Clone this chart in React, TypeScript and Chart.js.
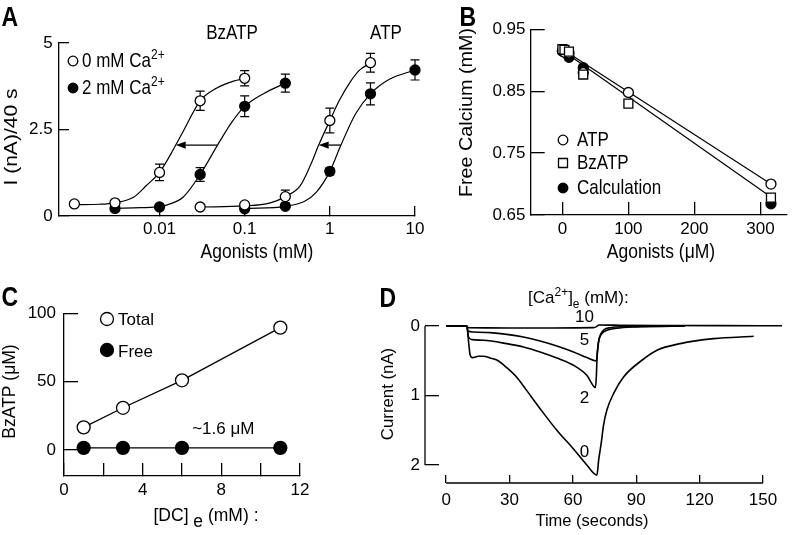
import React, { useEffect, useRef } from "react";
import { Chart, registerables } from "chart.js";

Chart.register(...registerables);

const FONT = '"Liberation Sans", Arial, Helvetica, sans-serif';
const W = 796;
const H = 535;
const TICK_SIZE = 17;
const TEXT_SIZE = 17;
const TITLE_SIZE = 17.5;
const LETTER_SIZE = 23;
const LETTER_SY = 1.2;
const TOP_SY = 1.15;

// ================= Panel A =================
const aXTicks = [0.01, 0.1, 1, 10];
const aXTickLabels = ["0.01", "0.1", "1", "10"];
const aYTicks = [0, 2.5, 5];
const aYTickLabels = ["0", "2.5", "5"];

const aBzX0 = [0.001, 0.003, 0.01, 0.03, 0.1];
const aBzY0 = [0.35, 0.38, 1.26, 3.33, 3.98];
const aBzE0 = [0, 0, 0.24, 0.28, 0.22];
const aBzX2 = [0.003, 0.01, 0.03, 0.1, 0.3];
const aBzY2 = [0.22, 0.26, 1.2, 3.17, 3.84];
const aBzE2 = [0, 0, 0.2, 0.3, 0.26];
const aAtpX0 = [0.03, 0.1, 0.3, 1, 3];
const aAtpY0 = [0.26, 0.32, 0.56, 2.76, 4.43];
const aAtpE0 = [0, 0, 0.19, 0.36, 0.27];
const aAtpX2 = [0.1, 0.3, 1, 3, 10];
const aAtpY2 = [0.21, 0.28, 1.29, 3.53, 4.22];
const aAtpE2 = [0, 0, 0.1, 0.32, 0.29];

const aFitBzX0 = [0.001, 0.002, 0.003, 0.005, 0.007, 0.01, 0.0135, 0.0155, 0.019, 0.03, 0.047, 0.074, 0.1];
const aFitBzY0 = [0.33, 0.34, 0.38, 0.55, 0.88, 1.26, 1.78, 2.05, 2.45, 3.33, 3.7, 3.9, 3.97];
const aFitBzX2 = [0.003, 0.006, 0.01, 0.0126, 0.019, 0.03, 0.048, 0.07, 0.1, 0.17, 0.3];
const aFitBzY2 = [0.22, 0.24, 0.27, 0.33, 0.55, 1.2, 2.05, 2.7, 3.17, 3.55, 3.84];
const aFitAtpX0 = [0.03, 0.1, 0.2, 0.3, 0.45, 0.6, 0.74, 1, 1.3, 1.7, 2.2, 3];
const aFitAtpY0 = [0.26, 0.29, 0.38, 0.56, 0.88, 1.5, 2.05, 2.76, 3.35, 3.84, 4.2, 4.43];
const aFitAtpX2 = [0.1, 0.3, 0.5, 0.7, 1, 1.35, 2, 3, 5, 10];
const aFitAtpY2 = [0.21, 0.28, 0.42, 0.7, 1.29, 2.05, 2.95, 3.53, 3.95, 4.22];

const aArrowFrom = [0.048, 1.35];
const aArrowTo = [0.0155, 0.74];
const aArrowY = [2.05, 2.05];

// ================= Panel B =================
const bXTicks = [0, 100, 200, 300];
const bXTickLabels = ["0", "100", "200", "300"];
const bYTicks = [0.65, 0.75, 0.85, 0.95];
const bYTickLabels = ["0.65", "0.75", "0.85", "0.95"];
const bX = [0, 3.16, 10, 31.6, 100, 316];
const bAtp = [0.915, 0.913, 0.912, 0.88, 0.848, 0.7];
const bBz = [0.918, 0.917, 0.914, 0.877, 0.83, 0.678];
const bCalcX = [0, 10, 31.6, 316];
const bCalc = [0.915, 0.905, 0.888, 0.668];
const bFitX = [0, 316];
const bFitAtp = [0.918, 0.7];
const bFitBz = [0.916, 0.679];

// ================= Panel C =================
const cXTicks = [0, 2, 4, 6, 8, 10, 12];
const cXTickLabels = ["0", "", "4", "", "8", "", "12"];
const cYTicks = [0, 50, 100];
const cYTickLabels = ["0", "50", "100"];
const cX = [1, 3, 6, 11];
const cTotal = [16.6, 30.9, 51, 89.5];
const cFree = [1.6, 1.6, 1.6, 1.6];
const cNote = "~1.6 \u03bcM";
const cNoteX = 8.1;
const cNoteY = 11.7;

// ================= Panel D =================
const dXTicks = [0, 30, 60, 90, 120, 150];
const dXTickLabels = ["0", "30", "60", "90", "120", "150"];
const dYTicks = [0, 1, 2];
const dYTickLabels = ["0", "1", "2"];
const d0T = [0, 9.8, 10.7, 11.4, 12.5, 15.3, 17.7, 20.8, 24, 28.7, 33.5, 38.2, 44.5, 52.4, 60.3, 66.6, 71.4, 72.2, 73.4, 74.5, 76.1, 79.3, 84, 92.7, 99.8, 110.8, 126.6, 145.6];
const d0I = [0, 0, 0.25, 0.42, 0.455, 0.436, 0.436, 0.46, 0.49, 0.6, 0.74, 0.93, 1.19, 1.5, 1.77, 2.0, 2.145, 1.93, 1.69, 1.43, 1.21, 0.97, 0.733, 0.493, 0.349, 0.254, 0.182, 0.148];
const d2T = [0, 9.8, 10.6, 12.2, 17.7, 28.7, 36.6, 44.5, 52.4, 60.3, 66.6, 70.7, 71.1, 71.4, 71.8, 72.5, 73.7, 76.1, 80.8, 88.7, 99.8, 113];
const d2I = [0, 0, 0.158, 0.196, 0.205, 0.254, 0.302, 0.373, 0.46, 0.565, 0.708, 0.885, 0.73, 0.49, 0.3, 0.18, 0.11, 0.062, 0.033, 0.014, 0.005, 0];
const d5T = [0, 9.8, 10.3, 12.9, 20.8, 28.7, 36.6, 44.5, 52.4, 60.3, 66.6, 71.1, 71.7, 72.3, 73.3, 74.8, 77.7, 84, 95, 113];
const d5I = [0, 0, 0.072, 0.086, 0.096, 0.12, 0.158, 0.215, 0.287, 0.373, 0.455, 0.503, 0.35, 0.205, 0.11, 0.052, 0.024, 0.01, 0.005, 0];
const d10T = [0, 9.8, 10.5, 30, 50, 69.8, 71.4, 72.2, 80, 100, 130, 159];
const d10I = [0, 0, 0.024, 0.028, 0.028, 0.024, 0.005, -0.014, -0.012, -0.008, -0.005, -0.004];
const dLabelText = ["10", "5", "2", "0"];
const dLabelT = [65.5, 65.5, 65.5, 65.5];
const dLabelI = [-0.06, 0.27, 1.11, 1.88];

// ================= helpers =================
type Part = [string, string?];
type TextOpts = { align?: string; rot?: number; bold?: boolean; baseline?: string; sy?: number };

function rich(ctx: any, x: number, y: number, parts: Part[], size: number, o: TextOpts = {}) {
  const align = o.align ?? "left";
  const bold = !!o.bold;
  ctx.save();
  ctx.translate(x, y);
  if (o.sy && o.sy !== 1) ctx.scale(1, o.sy);
  if (o.rot) ctx.rotate(o.rot);
  ctx.fillStyle = "#000";
  ctx.textBaseline = o.baseline ?? "alphabetic";
  ctx.textAlign = "left";
  const fontFor = (p: Part) =>
    `${bold ? "bold " : ""}${p[1] === "sup" || p[1] === "sub" ? Math.round(size * 0.7) : size}px ${FONT}`;
  const widths = parts.map((p) => {
    ctx.font = fontFor(p);
    return ctx.measureText(p[0]).width;
  });
  const total = widths.reduce((a, b) => a + b, 0);
  let cx = align === "left" ? 0 : align === "center" ? -total / 2 : -total;
  parts.forEach((p, i) => {
    ctx.font = fontFor(p);
    const dy = p[1] === "sup" ? -size * 0.42 : p[1] === "sub" ? size * 0.3 : p[1] === "low" ? size * 0.35 : 0;
    ctx.fillText(p[0], cx, dy);
    cx += widths[i];
  });
  ctx.restore();
}

function marker(ctx: any, x: number, y: number, r: number, shape: string, filled: boolean) {
  ctx.save();
  ctx.lineWidth = 1.3;
  ctx.strokeStyle = "#000";
  ctx.fillStyle = filled ? "#000" : "#fff";
  ctx.beginPath();
  if (shape === "rect") ctx.rect(x - r, y - r, 2 * r, 2 * r);
  else ctx.arc(x, y, r, 0, Math.PI * 2);
  ctx.fill();
  ctx.stroke();
  ctx.restore();
}

function arrow(ctx: any, x1: number, x2: number, y: number) {
  const hl = 10;
  const hw = 3.6;
  const dir = Math.sign(x2 - x1);
  ctx.save();
  ctx.strokeStyle = "#000";
  ctx.fillStyle = "#000";
  ctx.lineWidth = 1.3;
  ctx.beginPath();
  ctx.moveTo(x1, y);
  ctx.lineTo(x2 - dir * hl, y);
  ctx.stroke();
  ctx.beginPath();
  ctx.moveTo(x2, y);
  ctx.lineTo(x2 - dir * hl, y - hw);
  ctx.lineTo(x2 - dir * hl, y + hw);
  ctx.closePath();
  ctx.fill();
  ctx.restore();
}

function errBars(ctx: any, xs: any, ys: any, X: number[], Y: number[], E: number[], cap = 4.5) {
  ctx.save();
  ctx.strokeStyle = "#000";
  ctx.lineWidth = 1.2;
  X.forEach((xv, i) => {
    if (!E[i]) return;
    const px = xs.getPixelForValue(xv);
    const top = ys.getPixelForValue(Y[i] + E[i]);
    const bot = ys.getPixelForValue(Y[i] - E[i]);
    ctx.beginPath();
    ctx.moveTo(px, top);
    ctx.lineTo(px, bot);
    ctx.moveTo(px - cap, top);
    ctx.lineTo(px + cap, top);
    ctx.moveTo(px - cap, bot);
    ctx.lineTo(px + cap, bot);
    ctx.stroke();
  });
  ctx.restore();
}

const pts = (xs: number[], ys: number[]) => xs.map((x, i) => ({ x, y: ys[i] }));

function pointSet(xs: number[], ys: number[], filled: boolean, r = 5, style = "circle", order = 0) {
  return {
    data: pts(xs, ys),
    showLine: false,
    pointRadius: r,
    pointStyle: style,
    pointBorderWidth: 1.3,
    pointBorderColor: "#000",
    pointBackgroundColor: filled ? "#000" : "#fff",
    borderColor: "#000",
    backgroundColor: filled ? "#000" : "#fff",
    order,
    clip: false,
  };
}

function lineSet(xs: number[], ys: number[], width = 1.2, order = 2, smooth = true) {
  return {
    data: pts(xs, ys),
    showLine: true,
    pointRadius: 0,
    borderColor: "#000",
    borderWidth: width,
    fill: false,
    cubicInterpolationMode: smooth ? "monotone" : "default",
    tension: 0,
    order,
    clip: false,
  };
}

function axisCommon(ticks: number[], labels: string[], tl: number, pad: number, border = true) {
  return {
    afterBuildTicks: (s: any) => {
      s.ticks = ticks.map((v) => ({ value: v }));
    },
    ticks: {
      callback: (_v: any, i: number) => labels[i],
      font: { family: FONT, size: TICK_SIZE },
      color: "#000",
      padding: pad,
      autoSkip: false,
      maxRotation: 0,
      minRotation: 0,
    },
    grid: { display: true, drawOnChartArea: false, drawTicks: true, tickLength: -tl, color: "#000", lineWidth: 1.3 },
    border: { display: border, color: "#000", width: 1.3 },
    title: { display: false },
  };
}

type Area = { l: number; t: number; r: number; b: number };

function baseOptions(area: Area, x: any, y: any) {
  return {
    responsive: false,
    maintainAspectRatio: false,
    animation: false,
    devicePixelRatio: 1,
    events: [],
    layout: { padding: { left: 0, top: area.t, right: W - area.r, bottom: 0 } },
    plugins: { legend: { display: false }, tooltip: { enabled: false } },
    scales: {
      x: { ...x, position: "bottom", afterFit: (s: any) => { s.height = H - area.b; } },
      y: { ...y, position: "left", afterFit: (s: any) => { s.width = area.l; } },
    },
  };
}

const ROT = -Math.PI / 2;

// ================= configs =================
const AREA_A: Area = { l: 59, t: 43, r: 415, b: 216 };
const AREA_B: Area = { l: 530.7, t: 24, r: 786.8, b: 215 };
const AREA_C: Area = { l: 64, t: 313.3, r: 300, b: 476 };
const AREA_D: Area = { l: 425, t: 326, r: 763, b: 483 };

const configA = () => ({
  type: "line",
  data: {
    datasets: [
      pointSet(aBzX0, aBzY0, false),
      pointSet(aBzX2, aBzY2, true),
      pointSet(aAtpX0, aAtpY0, false),
      pointSet(aAtpX2, aAtpY2, true),
      lineSet(aFitBzX0, aFitBzY0),
      lineSet(aFitBzX2, aFitBzY2),
      lineSet(aFitAtpX0, aFitAtpY0),
      lineSet(aFitAtpX2, aFitAtpY2),
    ],
  },
  options: baseOptions(
    AREA_A,
    { type: "logarithmic", min: 0.00066, max: 10, ...axisCommon(aXTicks, aXTickLabels, 10, 13.4) },
    { type: "linear", min: 0, max: 5, ...axisCommon(aYTicks, aYTickLabels, 10, 16.3) }
  ),
  plugins: [
    {
      id: "panelA",
      beforeDatasetsDraw(chart: any) {
        const { ctx, scales } = chart;
        errBars(ctx, scales.x, scales.y, aBzX0, aBzY0, aBzE0);
        errBars(ctx, scales.x, scales.y, aBzX2, aBzY2, aBzE2);
        errBars(ctx, scales.x, scales.y, aAtpX0, aAtpY0, aAtpE0);
        errBars(ctx, scales.x, scales.y, aAtpX2, aAtpY2, aAtpE2);
      },
      afterDraw(chart: any) {
        const { ctx, scales } = chart;
        aArrowFrom.forEach((f, i) => {
          arrow(ctx, scales.x.getPixelForValue(f), scales.x.getPixelForValue(aArrowTo[i]), scales.y.getPixelForValue(aArrowY[i]));
        });
        rich(ctx, 1.5, 25.5, [["A"]], LETTER_SIZE, { bold: true, sy: LETTER_SY });
        rich(ctx, 12.5, 137, [["I (nA)/40 s"]], 18, { align: "center", rot: ROT, baseline: "middle", sy: 1.17 });
        rich(ctx, 257, 257.5, [["Agonists (mM)"]], TITLE_SIZE, { align: "center", sy: TOP_SY });
        rich(ctx, 232, 38.5, [["BzATP"]], TEXT_SIZE, { align: "center", sy: TOP_SY });
        rich(ctx, 386, 38.5, [["ATP"]], TEXT_SIZE, { align: "center", sy: TOP_SY });
        marker(ctx, 73, 61, 4.8, "circle", false);
        rich(ctx, 82, 67, [["0 mM Ca"], ["2+", "sup"]], TEXT_SIZE, { sy: TOP_SY });
        marker(ctx, 73, 88, 4.8, "circle", true);
        rich(ctx, 82, 94, [["2 mM Ca"], ["2+", "sup"]], TEXT_SIZE, { sy: TOP_SY });
      },
    },
  ],
});

const configB = () => ({
  type: "line",
  data: {
    datasets: [
      pointSet(bX, bBz, false, 6.3, "rect", 0),
      pointSet(bX, bAtp, false, 5, "circle", 0),
      pointSet(bCalcX, bCalc, true, 5, "circle", 1),
      lineSet(bFitX, bFitAtp, 1.2, 2, false),
      lineSet(bFitX, bFitBz, 1.2, 2, false),
    ],
  },
  options: baseOptions(
    AREA_B,
    { type: "linear", min: -48, max: 340, ...axisCommon(bXTicks, bXTickLabels, 13, 16.9) },
    { type: "linear", min: 0.65, max: 0.95, ...axisCommon(bYTicks, bYTickLabels, 14, 19.2) }
  ),
  plugins: [
    {
      id: "panelB",
      afterDraw(chart: any) {
        const { ctx } = chart;
        rich(ctx, 459.5, 25.5, [["B"]], LETTER_SIZE, { bold: true, sy: LETTER_SY });
        rich(ctx, 467.5, 112.5, [["Free Calcium (mM)"]], TITLE_SIZE, { align: "center", rot: ROT, baseline: "middle", sy: 1.13 });
        rich(ctx, 661, 257.5, [["Agonists (\u03bcM)"]], TITLE_SIZE, { align: "center", sy: TOP_SY });
        marker(ctx, 563, 140, 4.8, "circle", false);
        rich(ctx, 577, 146, [["ATP"]], TEXT_SIZE, { sy: TOP_SY });
        marker(ctx, 563, 163, 4.5, "rect", false);
        rich(ctx, 577, 169, [["BzATP"]], TEXT_SIZE, { sy: TOP_SY });
        marker(ctx, 563, 188, 4.8, "circle", true);
        rich(ctx, 577, 194, [["Calculation"]], TEXT_SIZE, { sy: TOP_SY });
      },
    },
  ],
});

const configC = () => ({
  type: "line",
  data: {
    datasets: [
      { ...pointSet(cX, cTotal, false, 6.5), showLine: true, borderWidth: 1.3, tension: 0 },
      { ...pointSet(cX, cFree, true, 6.5), showLine: true, borderWidth: 1.3, tension: 0 },
    ],
  },
  options: baseOptions(
    AREA_C,
    { type: "linear", min: 0, max: 12, ...axisCommon(cXTicks, cXTickLabels, 13, 17.4) },
    { type: "linear", min: -19, max: 100, ...axisCommon(cYTicks, cYTickLabels, 14, 22) }
  ),
  plugins: [
    {
      id: "panelC",
      afterDraw(chart: any) {
        const { ctx, scales } = chart;
        rich(ctx, 1.5, 305.5, [["C"]], LETTER_SIZE, { bold: true, sy: LETTER_SY });
        rich(ctx, 10, 391.5, [["BzATP (\u03bcM)"]], TITLE_SIZE, { align: "center", rot: ROT, baseline: "middle" });
        rich(ctx, 206, 521, [["[DC]"], [" e", "low"], [" (mM) :"]], TITLE_SIZE, { align: "center" });
        marker(ctx, 107, 319, 6.5, "circle", false);
        rich(ctx, 118, 325, [["Total"]], TEXT_SIZE);
        marker(ctx, 107, 350, 6.5, "circle", true);
        rich(ctx, 118, 356.5, [["Free"]], TEXT_SIZE);
        rich(ctx, scales.x.getPixelForValue(cNoteX), scales.y.getPixelForValue(cNoteY), [[cNote]], TEXT_SIZE, { align: "center" });
      },
    },
  ],
});

const configD = () => ({
  type: "line",
  data: {
    datasets: [
      lineSet(d0T, d0I, 1.6, 1),
      lineSet(d2T, d2I, 1.6, 1),
      lineSet(d5T, d5I, 1.6, 1),
      lineSet(d10T, d10I, 1.6, 1),
    ],
  },
  options: baseOptions(
    AREA_D,
    { type: "linear", min: -10, max: 150, ...axisCommon(dXTicks, dXTickLabels, 8, 15.4, false) },
    { type: "linear", min: 0, max: 2.26, reverse: true, ...axisCommon(dYTicks, dYTickLabels, 14, 19, false) }
  ),
  plugins: [
    {
      id: "panelD",
      afterDraw(chart: any) {
        const { ctx, scales, chartArea } = chart;
        const xs = scales.x;
        const ys = scales.y;
        ctx.save();
        ctx.strokeStyle = "#000";
        ctx.lineWidth = 1.3;
        ctx.beginPath();
        ctx.moveTo(chartArea.left, ys.getPixelForValue(dYTicks[0]));
        ctx.lineTo(chartArea.left, ys.getPixelForValue(dYTicks[dYTicks.length - 1]));
        ctx.moveTo(xs.getPixelForValue(dXTicks[0]), chartArea.bottom);
        ctx.lineTo(xs.getPixelForValue(dXTicks[dXTicks.length - 1]), chartArea.bottom);
        ctx.stroke();
        ctx.restore();
        dLabelText.forEach((t, i) => {
          rich(ctx, xs.getPixelForValue(dLabelT[i]), ys.getPixelForValue(dLabelI[i]), [[t]], TICK_SIZE, { align: "center" });
        });
        rich(ctx, 379.5, 306.5, [["D"]], LETTER_SIZE, { bold: true, sy: LETTER_SY });
        rich(ctx, 388, 394, [["Current (nA)"]], 16.8, { align: "center", rot: ROT, baseline: "middle" });
        rich(ctx, 592, 526, [["Time (seconds)"]], 16.5, { align: "center" });
        rich(ctx, 528, 303, [["[Ca"], ["2+", "sup"], ["]"], ["e", "sub"], [" (mM):"]], TEXT_SIZE);
      },
    },
  ],
});

function ChartCanvas({ config }: { config: () => any }) {
  const ref = useRef<HTMLCanvasElement>(null);
  useEffect(() => {
    const chart = new Chart(ref.current as HTMLCanvasElement, config());
    return () => chart.destroy();
  }, []);
  return (
    <canvas
      ref={ref}
      width={W}
      height={H}
      style={{ position: "absolute", left: 0, top: 0, width: W, height: H }}
    />
  );
}

export default function App() {
  return (
    <div style={{ position: "absolute", left: 0, top: 0, width: W, height: H, background: "#fff" }}>
      <ChartCanvas config={configA} />
      <ChartCanvas config={configB} />
      <ChartCanvas config={configC} />
      <ChartCanvas config={configD} />
    </div>
  );
}
